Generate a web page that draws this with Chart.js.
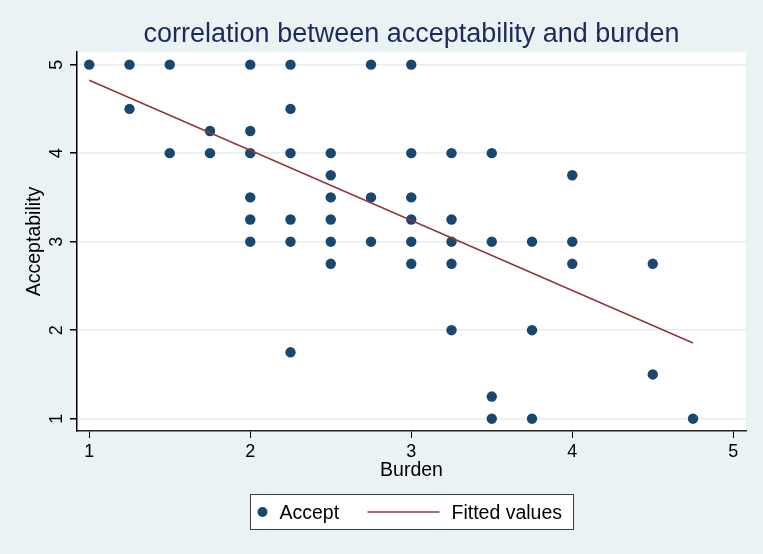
<!DOCTYPE html>
<html>
<head>
<meta charset="utf-8">
<script src="https://cdn.jsdelivr.net/npm/chart.js@4/dist/chart.umd.min.js"></script>
<style>
  html, body { margin: 0; padding: 0; background: #eaf2f3; }
  #c { display: block; }
</style>
</head>
<body>
<canvas id="c" width="763" height="554"></canvas>
<script>
// ---- data ----
const burden = [1, 1.25, 1.5, 2, 2.25, 2.75, 3,
                1.25, 2.25,
                1.75, 2,
                1.5, 1.75, 2, 2.25, 2.5, 3, 3.25, 3.5,
                2.5, 4,
                2, 2.5, 2.75, 3,
                2, 2.25, 2.5, 3, 3.25,
                2, 2.25, 2.5, 2.75, 3, 3.25, 3.5, 3.75, 4,
                2.5, 3, 3.25, 4, 4.5,
                3.25, 3.75,
                2.25,
                4.5,
                3.5,
                3.5, 3.75, 4.75];
const accept = [5, 5, 5, 5, 5, 5, 5,
                4.5, 4.5,
                4.25, 4.25,
                4, 4, 4, 4, 4, 4, 4, 4,
                3.75, 3.75,
                3.5, 3.5, 3.5, 3.5,
                3.25, 3.25, 3.25, 3.25, 3.25,
                3, 3, 3, 3, 3, 3, 3, 3, 3,
                2.75, 2.75, 2.75, 2.75, 2.75,
                2, 2,
                1.75,
                1.5,
                1.25,
                1, 1, 1];
const fitX = [1, 4.75];
const fitY = [4.824, 1.855];
const xTicks = [1, 2, 3, 4, 5];
const yTicks = [1, 2, 3, 4, 5];
const titleText = 'correlation between acceptability and burden';
const xTitle = 'Burden';
const yTitle = 'Acceptability';
const seriesNames = ['Accept', 'Fitted values'];

// ---- styles ----
const BG = '#eaf2f3';
const NAVY = '#1a476f';
const MAROON = '#90353b';
const FONT = "'Liberation Sans', Arial, Helvetica, sans-serif";

const scatterData = burden.map((b, i) => ({ x: b, y: accept[i] }));
const fitData = fitX.map((x, i) => ({ x: x, y: fitY[i] }));

const bgPlugin = {
  id: 'bg',
  beforeDraw(chart) {
    const { ctx, chartArea: a } = chart;
    ctx.save();
    ctx.fillStyle = BG;
    ctx.fillRect(0, 0, chart.width, chart.height);
    ctx.fillStyle = '#ffffff';
    ctx.fillRect(a.left, a.top, a.right - a.left, a.bottom - a.top);
    ctx.restore();
  }
};

const legendPlugin = {
  id: 'boxLegend',
  afterDraw(chart) {
    const { ctx, chartArea: a } = chart;
    const cx = (a.left + a.right) / 2;
    const w = 323, h = 35;
    const left = Math.round(cx - w / 2) + 0.5;
    const top = Math.round(a.bottom + 63) + 0.5;
    const midY = top + h / 2;
    ctx.save();
    ctx.fillStyle = '#ffffff';
    ctx.fillRect(left, top, w, h);
    ctx.strokeStyle = '#3a3a3a';
    ctx.lineWidth = 1;
    ctx.strokeRect(left, top, w, h);
    // marker
    ctx.fillStyle = NAVY;
    ctx.beginPath();
    ctx.arc(left + 12, midY, 5, 0, Math.PI * 2);
    ctx.fill();
    ctx.font = '19.5px ' + FONT;
    ctx.fillStyle = '#000000';
    ctx.textBaseline = 'middle';
    ctx.textAlign = 'left';
    ctx.fillText(seriesNames[0], left + 29, midY + 1.5);
    ctx.strokeStyle = MAROON;
    ctx.lineWidth = 1.5;
    ctx.beginPath();
    ctx.moveTo(left + 117, midY);
    ctx.lineTo(left + 189, midY);
    ctx.stroke();
    ctx.fillText(seriesNames[1], left + 201, midY + 1.5);
    ctx.restore();
  }
};

new Chart(document.getElementById('c'), {
  type: 'scatter',
  data: {
    datasets: [
      {
        type: 'line',
        label: seriesNames[1],
        data: fitData,
        borderColor: MAROON,
        borderWidth: 1.5,
        pointRadius: 0,
        fill: false,
        order: 0
      },
      {
        label: seriesNames[0],
        data: scatterData,
        backgroundColor: NAVY,
        borderWidth: 0,
        pointRadius: 5.2,
        order: 1
      }
    ]
  },
  options: {
    responsive: false,
    animation: false,
    events: [],
    layout: { padding: { left: 0, right: 17, top: 0, bottom: 72 } },
    plugins: {
      legend: { display: false },
      tooltip: { enabled: false },
      title: {
        display: true,
        text: titleText,
        fullSize: false,
        color: '#1c2b5a',
        font: { family: FONT, size: 27, weight: 'normal' },
        padding: { top: 18, bottom: 1.6 }
      }
    },
    scales: {
      x: {
        type: 'linear',
        min: 0.924,
        max: 5.079,
        afterBuildTicks: s => { s.ticks = xTicks.map(v => ({ value: v })); },
        afterFit: s => { s.height = 51; },
        grid: { drawOnChartArea: false, drawTicks: true, tickLength: 7, color: '#000', lineWidth: 1 },
        border: { display: true, color: '#222', width: 1.5 },
        ticks: { color: '#000', font: { family: FONT, size: 18 }, padding: 3, maxRotation: 0, minRotation: 0 },
        title: { display: true, text: xTitle, color: '#000', font: { family: FONT, size: 19.5 }, padding: { top: 0, bottom: 0 } }
      },
      y: {
        type: 'linear',
        min: 0.861,
        max: 5.143,
        afterBuildTicks: s => { s.ticks = yTicks.map(v => ({ value: v })); },
        afterFit: s => { s.width = 77; },
        grid: { drawOnChartArea: true, drawTicks: true, tickLength: 7, color: '#e6eef0', tickColor: '#000', lineWidth: 1.5 },
        border: { display: true, color: '#000', width: 1.5 },
        ticks: { color: '#000', font: { family: FONT, size: 18 }, padding: 8, minRotation: 90, maxRotation: 90, crossAlign: 'center' },
        title: { display: true, text: yTitle, color: '#000', font: { family: FONT, size: 19.5 }, padding: { top: 22.5, bottom: 0 } }
      }
    }
  },
  plugins: [bgPlugin, legendPlugin]
});
</script>
</body>
</html>
